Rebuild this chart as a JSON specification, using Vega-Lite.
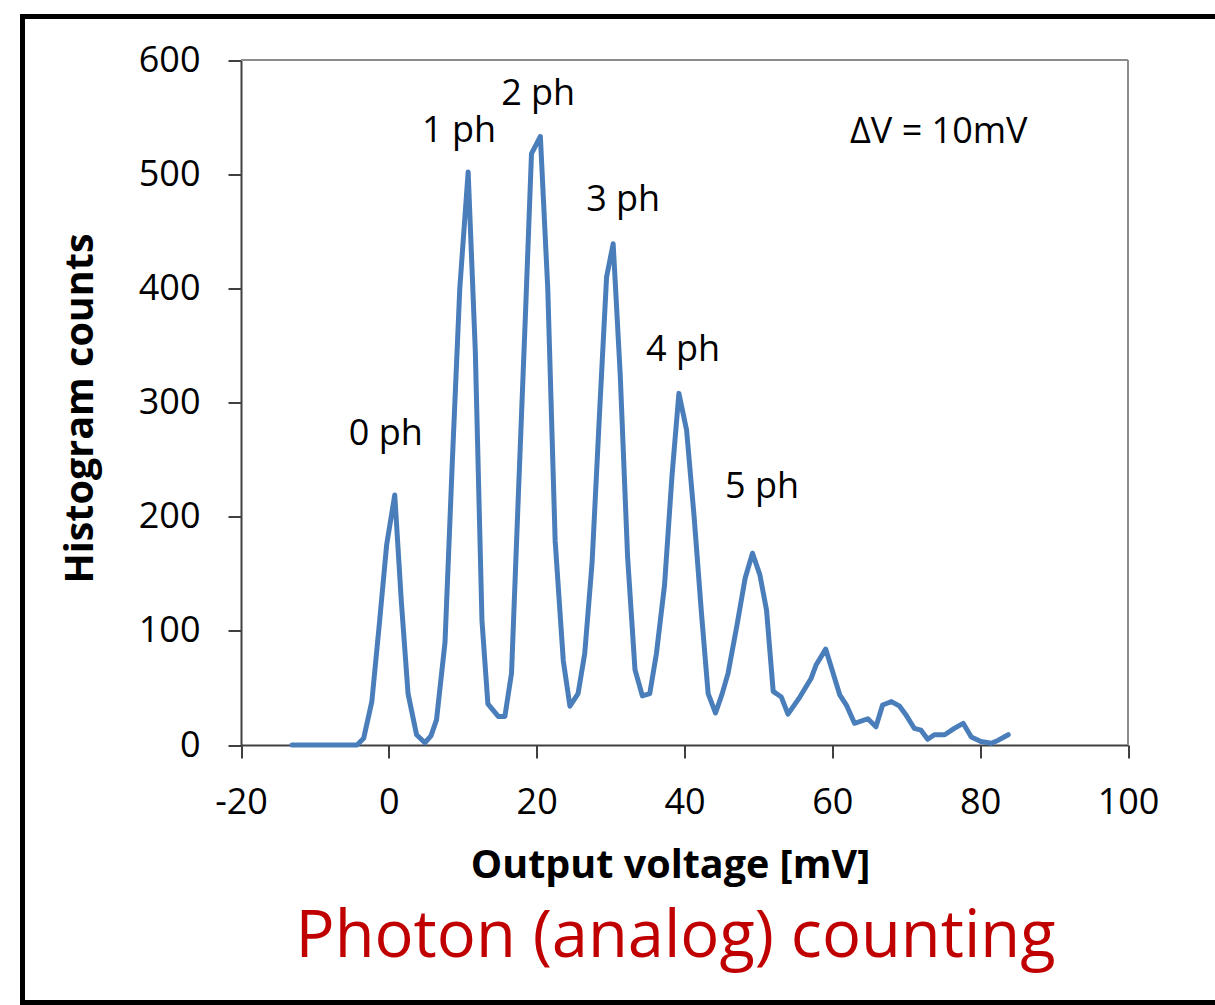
{
  "$schema": "https://vega.github.io/schema/vega-lite/v6.json",
  "width": 1200,
  "height": 986,
  "autosize": {"type": "none"},
  "padding": {"left": 22.5, "top": 16.5, "right": 0, "bottom": 2.5},
  "background": "white",
  "config": {
    "view": {"stroke": "black", "strokeWidth": 5},
    "font": "Open Sans",
    "axis": {
      "grid": false,
      "domainColor": "#404040",
      "domainWidth": 2,
      "tickColor": "#404040",
      "tickWidth": 2,
      "tickSize": 13,
      "labelFont": "Open Sans",
      "labelFontSize": 36,
      "labelColor": "black",
      "labelFlush": false,
      "labelOverlap": false,
      "titleFont": "Open Sans",
      "titleFontSize": 39.5,
      "titleFontWeight": "bold",
      "titleColor": "black"
    }
  },
  "title": {
    "text": "Photon (analog) counting",
    "orient": "bottom",
    "frame": "group",
    "anchor": "middle",
    "offset": -97,
    "dx": 53,
    "baseline": "top",
    "font": "Open Sans",
    "fontSize": 65,
    "fontWeight": "normal",
    "color": "#C00000"
  },
  "datasets": {
    "hist": [
      {"v": -13.1, "c": 0}, {"v": -12, "c": 0}, {"v": -11, "c": 0}, {"v": -10, "c": 0},
      {"v": -9, "c": 0}, {"v": -8, "c": 0}, {"v": -7, "c": 0}, {"v": -6, "c": 0},
      {"v": -5, "c": 0}, {"v": -4.3, "c": 0}, {"v": -3.4, "c": 6}, {"v": -2.3, "c": 38},
      {"v": -1.3, "c": 105}, {"v": -0.3, "c": 175}, {"v": 0.8, "c": 219}, {"v": 1.7, "c": 125},
      {"v": 2.6, "c": 45}, {"v": 3.75, "c": 9}, {"v": 4.87, "c": 2}, {"v": 5.7, "c": 8},
      {"v": 6.45, "c": 22}, {"v": 7.6, "c": 90}, {"v": 8.6, "c": 250}, {"v": 9.6, "c": 400},
      {"v": 10.73, "c": 502}, {"v": 11.7, "c": 345}, {"v": 12.6, "c": 109}, {"v": 13.4, "c": 36},
      {"v": 14.8, "c": 25}, {"v": 15.7, "c": 25}, {"v": 16.6, "c": 63}, {"v": 17.5, "c": 215},
      {"v": 18.5, "c": 380}, {"v": 19.3, "c": 518}, {"v": 20.5, "c": 533}, {"v": 21.5, "c": 400},
      {"v": 22.5, "c": 179}, {"v": 23.6, "c": 74}, {"v": 24.5, "c": 34}, {"v": 25.6, "c": 45},
      {"v": 26.5, "c": 80}, {"v": 27.5, "c": 160}, {"v": 28.5, "c": 290}, {"v": 29.46, "c": 410},
      {"v": 30.35, "c": 439}, {"v": 31.3, "c": 325}, {"v": 32.3, "c": 165}, {"v": 33.3, "c": 66},
      {"v": 34.3, "c": 43}, {"v": 35.3, "c": 45}, {"v": 36.2, "c": 80}, {"v": 37.3, "c": 140},
      {"v": 38.3, "c": 235}, {"v": 39.24, "c": 308}, {"v": 40.28, "c": 276}, {"v": 41.3, "c": 200},
      {"v": 42.3, "c": 115}, {"v": 43.2, "c": 45}, {"v": 44.2, "c": 28}, {"v": 45.1, "c": 45},
      {"v": 45.9, "c": 63}, {"v": 47.1, "c": 105}, {"v": 48.2, "c": 146}, {"v": 49.2, "c": 168},
      {"v": 50.2, "c": 149}, {"v": 51.1, "c": 118}, {"v": 52.0, "c": 47}, {"v": 53.1, "c": 42},
      {"v": 54.0, "c": 27}, {"v": 55.6, "c": 42}, {"v": 57.1, "c": 58}, {"v": 57.8, "c": 70},
      {"v": 59.1, "c": 84}, {"v": 61.0, "c": 44}, {"v": 61.9, "c": 35}, {"v": 63.0, "c": 19},
      {"v": 64.8, "c": 23}, {"v": 65.9, "c": 16}, {"v": 66.8, "c": 35}, {"v": 68.0, "c": 38},
      {"v": 69.1, "c": 34}, {"v": 70.0, "c": 26}, {"v": 71.1, "c": 14.5}, {"v": 72.0, "c": 13},
      {"v": 72.9, "c": 5}, {"v": 73.8, "c": 9}, {"v": 75.2, "c": 9}, {"v": 76.5, "c": 14.5},
      {"v": 77.7, "c": 19}, {"v": 78.8, "c": 7}, {"v": 80.1, "c": 3}, {"v": 81.5, "c": 1.5},
      {"v": 82.4, "c": 4}, {"v": 83.8, "c": 9}
    ],
    "notes": [
      {"v": -0.4, "c": 272, "label": "0 ph"},
      {"v": 9.5, "c": 538, "label": "1 ph"},
      {"v": 20.2, "c": 570, "label": "2 ph"},
      {"v": 31.7, "c": 477, "label": "3 ph"},
      {"v": 39.8, "c": 346, "label": "4 ph"},
      {"v": 50.5, "c": 226, "label": "5 ph"},
      {"v": 74.4, "c": 537, "label": "ΔV = 10mV"}
    ]
  },
  "layer": [
    {
      "data": {"name": "hist"},
      "mark": {"type": "line", "color": "#4A7EBB", "strokeWidth": 5, "strokeJoin": "round", "strokeCap": "round"},
      "encoding": {
        "x": {
          "field": "v", "type": "quantitative",
          "scale": {"domain": [-20, 100], "range": [218.5, 1105.5], "nice": false, "zero": false},
          "axis": {
            "title": "Output voltage [mV]",
            "values": [-20, 0, 20, 40, 60, 80, 100],
            "labelExpr": "'' + datum.value",
            "offset": -257.5,
            "labelPadding": 27,
            "titleX": 647.5,
            "titleY": 132,
            "titleBaseline": "alphabetic",
            "titleAnchor": "middle"
          }
        },
        "y": {
          "field": "c", "type": "quantitative",
          "scale": {"domain": [0, 600], "range": [728.5, 43.5], "nice": false, "zero": false},
          "axis": {
            "title": "Histogram counts",
            "values": [0, 100, 200, 300, 400, 500, 600],
            "offset": -218.5,
            "labelPadding": 28,
            "titleX": -149,
            "titleY": 391.5,
            "titleAngle": 270,
            "titleBaseline": "alphabetic",
            "titleAnchor": "middle"
          }
        }
      }
    },
    {
      "data": {"values": [{}]},
      "mark": {"type": "rule", "color": "#8c8c8c", "strokeWidth": 2},
      "encoding": {
        "x": {"datum": -20, "type": "quantitative"},
        "x2": {"datum": 100},
        "y": {"datum": 600, "type": "quantitative"}
      }
    },
    {
      "data": {"values": [{}]},
      "mark": {"type": "rule", "color": "#8c8c8c", "strokeWidth": 2},
      "encoding": {
        "x": {"datum": 100, "type": "quantitative"},
        "y": {"datum": 0, "type": "quantitative"},
        "y2": {"datum": 600}
      }
    },
    {
      "data": {"name": "notes"},
      "mark": {"type": "text", "font": "Open Sans", "fontSize": 36, "color": "black", "align": "center", "baseline": "middle"},
      "encoding": {
        "x": {"field": "v", "type": "quantitative"},
        "y": {"field": "c", "type": "quantitative"},
        "text": {"field": "label", "type": "nominal"}
      }
    }
  ]
}
